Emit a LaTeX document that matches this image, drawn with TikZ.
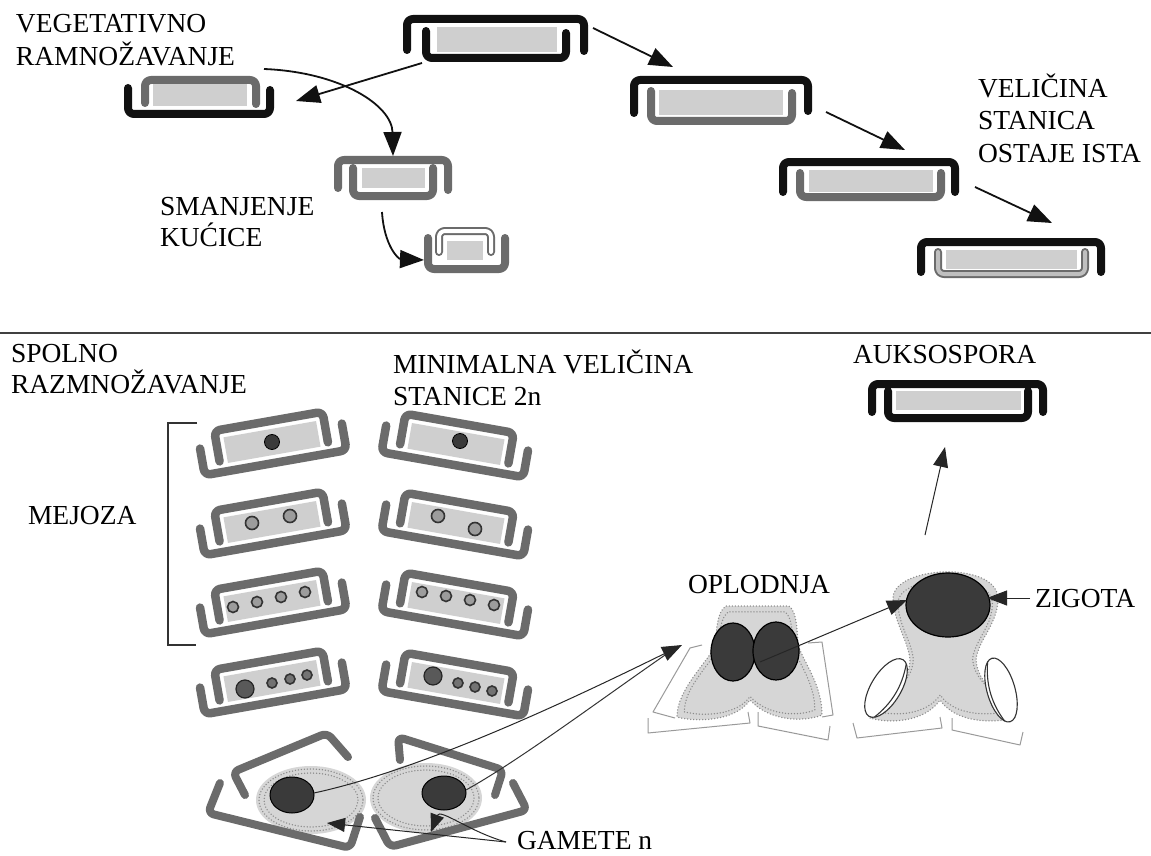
\documentclass[tikz,border=0pt]{standalone}
\usepackage{fontspec}
\setmainfont{Liberation Serif}
\usetikzlibrary{arrows.meta}
\definecolor{vblack}{HTML}{111111}
\definecolor{vgray}{HTML}{6B6B6B}
\definecolor{proto}{HTML}{CFCFCF}
\definecolor{stip}{HTML}{D6D6D6}
\definecolor{dotc}{HTML}{8A8A8A}
\definecolor{nucd}{HTML}{3A3A3A}
\definecolor{nucm}{HTML}{9C9C9C}
\definecolor{thinc}{HTML}{9A9A9A}
\tikzset{
  valve/.style={line width=8pt, line cap=round, line join=round, rounded corners=6pt},
  bv/.style={valve, draw=vblack},
  gv/.style={valve, draw=vgray},
  hv/.style={line cap=round, line join=round, rounded corners=6pt, draw=vgray, line width=2pt, double=#1, double distance=4pt},
  pp/.style={fill=proto},
  lab/.style={anchor=base west, inner sep=0pt, outer sep=0pt, font=\fontsize{27.5}{32}\selectfont},
  arrT/.style={draw=vblack, line width=1.8pt, -{Triangle[length=24pt,width=18pt]}},
  arrB/.style={draw=black!85, line width=1pt, -{Triangle[length=20pt,width=15pt]}},
  dots/.style={draw=dotc, line width=1.5pt, dash pattern=on 0pt off 3pt, line cap=round},
  thinl/.style={draw=thinc, line width=1pt, line join=round},
  nuc1/.style={fill=nucd, draw=black, line width=0.8pt},
  nuc2/.style={fill=nucm, draw=black!80, line width=1.6pt},
  nucbig/.style={fill=black!65, draw=black!85, line width=1.2pt},
  lens/.style={fill=white, draw=black!80, line width=1.1pt},
  mcell/.pic={
    \fill[pp] (-47,-13) rectangle (47,13);
    \draw[gv, line width=8.5pt] (-72,-6) -- (-72,21) -- (72,21) -- (72,-6);
    \draw[gv, line width=8.5pt] (-55,10) -- (-55,-21) -- (55,-21) -- (55,10);
  }
}
\begin{document}
\begin{tikzpicture}[x=1pt,y=-1pt]
\fill[white] (0,0) rectangle (1151,856);
\useasboundingbox (0,0) rectangle (1151,856);

% ---------- top: vegetative ----------
\node[lab] (t1) at (16,33) {VEGETATIVNO};
\node[lab] (t2) at (16,66) {RAMNOŽAVANJE};
\node[lab] (t3) at (160,215) {SMANJENJE};
\node[lab] (t4) at (160,246) {KUĆICE};
\node[lab] (t5) at (978,98) {VELIČINA};
\node[lab] (t6) at (978,130) {STANICA};
\node[lab] (t7) at (978,162) {OSTAJE ISTA};

% cell 1
\fill[pp] (437,27) rectangle (557,52);
\draw[bv] (407,50) -- (407,19) -- (584,19) -- (584,51);
\draw[bv] (426,31) -- (426,58) -- (566,58) -- (566,33);
% cell 2
\fill[pp] (659,90) rectangle (783,115);
\draw[bv] (634,113) -- (634,80) -- (808,80) -- (808,111);
\draw[gv] (651,91) -- (651,121) -- (792,121) -- (792,93);
% cell 3
\fill[pp] (809,170) rectangle (933,192);
\draw[bv] (783,192) -- (783,162) -- (955,162) -- (955,192);
\draw[gv] (800,173) -- (800,197) -- (941,197) -- (941,173);
% cell 4
\fill[pp] (946,250) rectangle (1077,269);
\draw[bv] (921,272) -- (921,242) -- (1101,242) -- (1101,272);
\draw[hv=black!25] (938,252) -- (938,274) -- (1085,274) -- (1085,252);
% cell L1
\fill[pp] (153,84) rectangle (247,106);
\draw[gv] (145,103) -- (145,80) -- (256,80) -- (256,104);
\draw[bv] (128,88) -- (128,114) -- (270,114) -- (270,90);
% cell L2
\fill[pp] (362,168) rectangle (425,188);
\draw[gv] (338,188) -- (338,160) -- (448,160) -- (448,190);
\draw[gv] (353,168) -- (353,196) -- (433,196) -- (433,168);
% cell L3
\fill[pp] (447,241) rectangle (483,260);
\draw[hv=white] (439,252) -- (439,231) -- (491,231) -- (491,252);
\draw[gv] (428,238) -- (428,269) -- (505,269) -- (505,238);

% top arrows
\coordinate (a1s) at (422,63);  \coordinate (a1e) at (296,101);
\coordinate (a2s) at (264,69);  \coordinate (a2e) at (393,156);
\coordinate (a3s) at (382,212); \coordinate (a3e) at (424,260);
\coordinate (a4s) at (593,28);  \coordinate (a4e) at (673,67);
\coordinate (a5s) at (826,112); \coordinate (a5e) at (905,150);
\coordinate (a6s) at (975,187); \coordinate (a6e) at (1052,223);
\draw[arrT] (a1s) -- (a1e);
\draw[arrT] (a2s) .. controls (340,72) and (392,105) .. (a2e);
\draw[arrT] (a3s) .. controls (384,245) and (398,259) .. (a3e);
\draw[arrT] (a4s) -- (a4e);
\draw[arrT] (a5s) -- (a5e);
\draw[arrT] (a6s) -- (a6e);

% divider
\draw[line width=2pt, draw=black!75] (0,333) -- (1151,333);

% ---------- bottom: sexual ----------
\node[lab] (s1) at (11,362) {SPOLNO};
\node[lab] (s2) at (11,393) {RAZMNOŽAVANJE};
\node[lab] (s3) at (393,373) {MINIMALNA VELIČINA};
\node[lab] (s4) at (393,405) {STANICE 2n};
\node[lab] (s5) at (28,524) {MEJOZA};
\node[lab] (s6) at (853,363) {AUKSOSPORA};
\node[lab] (s7) at (688,593) {OPLODNJA};
\node[lab] (s8) at (1035,607) {ZIGOTA};
\node[lab] (s9) at (517,849) {GAMETE n};

% bracket
\draw[line width=1.5pt, draw=black!80] (197,423) -- (168,423) -- (168,645) -- (196,645);

% meiosis cells
\pic[rotate=10] at (272,442) {mcell};
\pic[rotate=10] at (272,522) {mcell};
\pic[rotate=10] at (272,601) {mcell};
\pic[rotate=10] at (272,681) {mcell};
\pic[rotate=-10] at (456,444) {mcell};
\pic[rotate=-10] at (456,523) {mcell};
\pic[rotate=-10] at (456,603) {mcell};
\pic[rotate=-10] at (456,683) {mcell};
% nuclei
\draw[nuc1] (272,442) circle [radius=7.5];
\draw[nuc1] (460,441) circle [radius=7.5];
\draw[nuc2] (252,523) circle [radius=6.5];
\draw[nuc2] (290,516) circle [radius=6.5];
\draw[nuc2] (438,516) circle [radius=6.5];
\draw[nuc2] (475,529) circle [radius=6.5];
\foreach \p in {(233,607),(257,602),(281,597),(305,592),(422,592),(446,596),(470,600),(494,605)}
  \draw[nuc2] \p circle [radius=5.5];
\draw[nucbig] (245,689) circle [radius=9];
\draw[nucbig] (433,676) circle [radius=9];
\foreach \p in {(272,683),(290,679),(307,675),(458,683),(475,687),(492,691)}
  \draw[nuc2, fill=black!55] \p circle [radius=5];

% gametes
\fill[stip] (311,800) ellipse [x radius=55, y radius=34];
\draw[dots] (311,800) ellipse [x radius=52, y radius=31];
\draw[dots] (311,800) ellipse [x radius=47, y radius=27];
\fill[stip] (426,798) ellipse [x radius=56, y radius=35];
\draw[dots] (426,798) ellipse [x radius=53, y radius=32];
\draw[dots] (426,798) ellipse [x radius=48, y radius=28];
\draw[gv] (245,795) -- (233,772) -- (327,733) -- (348,757);
\draw[gv] (220,783) -- (208,813) -- (350,848) -- (360,817);
\draw[gv] (400,760) -- (398,737) -- (503,770) -- (495,795);
\draw[gv] (513,783) -- (527,810) -- (390,847) -- (375,818);
\draw[fill=nucd, draw=black, line width=1pt] (292,795) ellipse [x radius=22, y radius=18];
\draw[fill=nucd, draw=black, line width=1pt] (444,793) ellipse [x radius=22, y radius=17];

% fertilization figure
\draw[thinl] (702,645) -- (690,648) -- (653,712) -- (675,718);
\draw[thinl] (808,643) -- (822,642) -- (833,715) -- (822,717);
\draw[thinl] (648,718) -- (648,733) -- (750,723) -- (748,712);
\draw[thinl] (758,712) -- (758,726) -- (828,740) -- (830,726);
\path[fill=stip] (716,645) .. controls (716,630) and (717,612) .. (726,606) -- (789,606) .. controls (797,612) and (797,630) .. (798,645) .. controls (805,665) and (822,685) .. (822,715) .. controls (805,722) and (770,722) .. (750,700) .. controls (735,722) and (695,722) .. (677,717) .. controls (677,690) and (705,665) .. cycle;
\draw[dots] (716,645) .. controls (716,630) and (717,612) .. (726,606) -- (789,606) .. controls (797,612) and (797,630) .. (798,645) .. controls (805,665) and (822,685) .. (822,715) .. controls (805,722) and (770,722) .. (750,700) .. controls (735,722) and (695,722) .. (677,717) .. controls (677,690) and (705,665) .. cycle;
\draw[dots, scale around={0.9:(750,665)}] (716,645) .. controls (716,630) and (717,612) .. (726,606) -- (789,606) .. controls (797,612) and (797,630) .. (798,645) .. controls (805,665) and (822,685) .. (822,715) .. controls (805,722) and (770,722) .. (750,700) .. controls (735,722) and (695,722) .. (677,717) .. controls (677,690) and (705,665) .. cycle;
\draw[fill=nucd, draw=black, line width=1.2pt] (733,652) ellipse [x radius=22, y radius=29];
\draw[fill=nucd, draw=black, line width=1.2pt] (776,651) ellipse [x radius=23, y radius=29];

% zygote figure
\draw[thinl] (853,723) -- (857,738) -- (942,728) -- (940,717);
\draw[thinl] (952,718) -- (952,730) -- (1020,745) -- (1023,732);
\path[fill=stip] (893,600) .. controls (890,565) and (1000,560) .. (998,600) .. controls (997,625) and (978,640) .. (976,660) .. controls (978,690) and (1012,700) .. (1015,718) .. controls (990,724) and (955,722) .. (940,700) .. controls (925,722) and (890,724) .. (870,718) .. controls (875,700) and (910,690) .. (910,660) .. controls (908,640) and (895,625) .. cycle;
\draw[dots] (893,600) .. controls (890,565) and (1000,560) .. (998,600) .. controls (997,625) and (978,640) .. (976,660) .. controls (978,690) and (1012,700) .. (1015,718) .. controls (990,724) and (955,722) .. (940,700) .. controls (925,722) and (890,724) .. (870,718) .. controls (875,700) and (910,690) .. (910,660) .. controls (908,640) and (895,625) .. cycle;
\draw[dots, scale around={0.9:(942,650)}] (893,600) .. controls (890,565) and (1000,560) .. (998,600) .. controls (997,625) and (978,640) .. (976,660) .. controls (978,690) and (1012,700) .. (1015,718) .. controls (990,724) and (955,722) .. (940,700) .. controls (925,722) and (890,724) .. (870,718) .. controls (875,700) and (910,690) .. (910,660) .. controls (908,640) and (895,625) .. cycle;
\draw[fill=nucd, draw=black, line width=1.2pt] (948,605) ellipse [x radius=42, y radius=32];
\begin{scope}[shift={(886,688)}, rotate=-31]
  \draw[lens] (0,0) ellipse [x radius=15, y radius=33];
  \draw[lens, fill=none] (5,-31) .. controls (13,-10) and (13,10) .. (5,31);
\end{scope}
\begin{scope}[shift={(1001,690)}, rotate=16]
  \draw[lens] (0,0) ellipse [x radius=14, y radius=33];
  \draw[lens, fill=none] (-5,-31) .. controls (-13,-10) and (-13,10) .. (-5,31);
\end{scope}

% auxospore cell
\fill[pp] (896,391) rectangle (1021,410);
\draw[bv] (872,412) -- (872,384) -- (1043,384) -- (1043,412);
\draw[bv] (888,391) -- (888,418) -- (1028,418) -- (1028,391);

% bottom arrows
\coordinate (gA) at (314,793);
\coordinate (gB) at (466,790);
\coordinate (gBe) at (668,653);
\coordinate (opl) at (682,645);
\draw[draw=black!80, line width=1pt] (gB) .. controls (520,760) and (600,700) .. (gBe);
\draw[arrB] (gA) .. controls (420,770) and (560,705) .. (opl);
\coordinate (b2s) at (760,662); \coordinate (b2e) at (907,600);
\draw[arrB] (b2s) -- (b2e);
\coordinate (b3s) at (1030,598); \coordinate (b3e) at (987,598);
\draw[arrB] (b3s) -- (b3e);
\coordinate (b1s) at (925,535); \coordinate (b1e) at (945,447);
\draw[arrB] (b1s) -- (b1e);
\coordinate (gt) at (506,842);
\coordinate (gl) at (327,823);
\coordinate (gr) at (431,832);
\draw[arrB, -{Triangle[length=18pt,width=14pt]}] (gt) -- (gl);
\draw[arrB, -{Triangle[length=18pt,width=14pt]}] (gt) .. controls (470,832) and (440,808) .. (gr);
\end{tikzpicture}
\end{document}
